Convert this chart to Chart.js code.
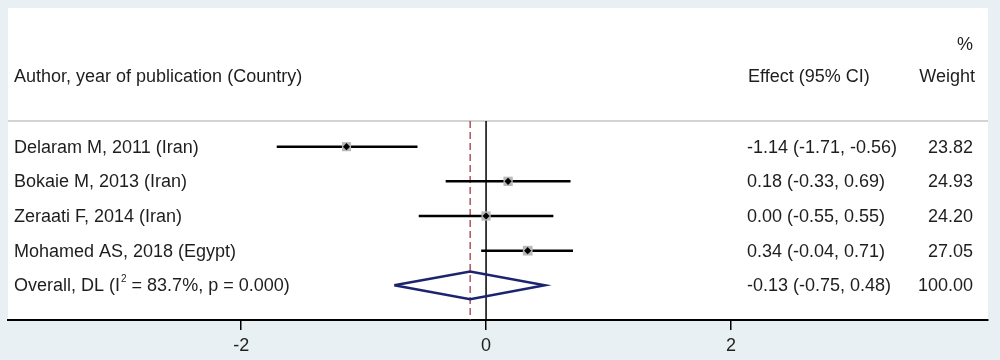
<!DOCTYPE html>
<html>
<head>
<meta charset="utf-8">
<script src="https://cdn.jsdelivr.net/npm/chart.js@4/dist/chart.umd.min.js"></script>
<style>
  html, body { margin: 0; padding: 0; background: #e8f0f3; }
  #wrap { width: 1000px; height: 360px; position: relative; }
</style>
</head>
<body>
<div id="wrap"><canvas id="forest"></canvas></div>
<script>
// study rows
const studies = ["Delaram M, 2011 (Iran)", "Bokaie M, 2013 (Iran)", "Zeraati F, 2014 (Iran)", "Mohamed AS, 2018 (Egypt)"];
const effects = [-1.14, 0.18, 0.00, 0.34];
const lower = [-1.71, -0.33, -0.55, -0.04];
const upper = [-0.56, 0.69, 0.55, 0.71];
const weights = [23.82, 24.93, 24.20, 27.05];

// pooled estimate
const overallLabel = ["Overall, DL (I", "2", " = 83.7%, p = 0.000)"];
const overallEffect = -0.13;
const overallLower = -0.75;
const overallUpper = 0.48;
const overallWeight = 100.00;

const xTicks = [-2, 0, 2];

const FONT = '"Liberation Sans", Arial, sans-serif';
const TEXT = '#1e1e1e';
const rowTop = -0.74; // header separator (in row units)
const overallRow = studies.length;

let datasets = [];

// black centre markers
datasets.push({
  data: effects.map((e, i) => ({x: e, y: i})),
  pointStyle: 'rectRot', pointRadius: 3.6, backgroundColor: '#000', borderWidth: 0,
  showLine: false, order: 0
});
// grey weight boxes
datasets.push({
  data: effects.map((e, i) => ({x: e, y: i})),
  pointStyle: 'rect', pointRadius: weights.map(w => Math.sqrt(w) * 1.32),
  backgroundColor: '#b8b8b8', borderWidth: 0, showLine: false, order: 1
});
// confidence intervals
studies.forEach((s, i) => {
  datasets.push({
    data: [{x: lower[i], y: i}, {x: upper[i], y: i}],
    showLine: true, borderColor: '#000', borderWidth: 2.5, pointRadius: 0, order: 2
  });
});
// overall diamond
datasets.push({
  data: [
    {x: overallLower, y: overallRow}, {x: overallEffect, y: overallRow - 0.4},
    {x: overallUpper, y: overallRow}, {x: overallEffect, y: overallRow + 0.4},
    {x: overallLower, y: overallRow}
  ],
  showLine: true, borderColor: '#1c2470', borderWidth: 2.5, pointRadius: 0, order: 2
});
// dashed line at pooled effect
datasets.push({
  data: [{x: overallEffect, y: rowTop}, {x: overallEffect, y: 5}],
  showLine: true, borderColor: '#9a2a3a', borderWidth: 1.2, borderDash: [7, 4], pointRadius: 0, order: 3
});
// line of no effect
datasets.push({
  data: [{x: 0, y: rowTop}, {x: 0, y: 5}],
  showLine: true, borderColor: '#000', borderWidth: 1.5, pointRadius: 0, order: 3
});

const panel = {
  id: 'panel',
  beforeDraw(chart) {
    const {ctx, chartArea: a, scales: {y}} = chart;
    ctx.save();
    ctx.fillStyle = '#fff';
    ctx.fillRect(a.left, a.top, a.right - a.left, a.bottom - a.top);
    ctx.strokeStyle = '#c4c4c4';
    ctx.lineWidth = 1.5;
    const ys = y.getPixelForValue(rowTop);
    ctx.beginPath(); ctx.moveTo(a.left, ys); ctx.lineTo(a.right, ys); ctx.stroke();
    ctx.restore();
  },
  afterDatasetsDraw(chart) {
    const {ctx, scales: {y}} = chart;
    const labX = 14, effX = 747, wRight = 974;
    ctx.save();
    ctx.fillStyle = TEXT;
    ctx.font = '18px ' + FONT;
    ctx.textBaseline = 'middle';
    // headers
    ctx.textAlign = 'left';
    ctx.fillText("Author, year of publication (Country)", labX, y.getPixelForValue(-2));
    ctx.fillText("Effect (95% CI)", effX + 1, y.getPixelForValue(-2));
    ctx.textAlign = 'right';
    ctx.fillText("Weight", wRight + 1, y.getPixelForValue(-2));
    ctx.fillText("%", wRight - 1, y.getPixelForValue(-2.92));
    // study rows
    studies.forEach((s, i) => {
      const py = y.getPixelForValue(i) + 1;
      ctx.textAlign = 'left';
      ctx.fillText(s, labX, py);
      ctx.fillText(effects[i].toFixed(2) + " (" + lower[i].toFixed(2) + ", " + upper[i].toFixed(2) + ")", effX, py);
      ctx.textAlign = 'right';
      ctx.fillText(weights[i].toFixed(2), wRight - 1, py);
    });
    // overall row
    const py = y.getPixelForValue(overallRow) + 1;
    ctx.textAlign = 'left';
    let x = labX;
    ctx.fillText(overallLabel[0], x, py);
    x += ctx.measureText(overallLabel[0]).width + 1;
    ctx.font = '10px ' + FONT;
    ctx.fillText(overallLabel[1], x, py - 7);
    x += ctx.measureText(overallLabel[1]).width;
    ctx.font = '18px ' + FONT;
    ctx.fillText(overallLabel[2], x, py);
    ctx.fillText(overallEffect.toFixed(2) + " (" + overallLower.toFixed(2) + ", " + overallUpper.toFixed(2) + ")", effX, py);
    ctx.textAlign = 'right';
    ctx.fillText(overallWeight.toFixed(2), wRight - 1, py);
    ctx.restore();
  }
};

new Chart(document.getElementById('forest'), {
  type: 'scatter',
  data: {datasets: datasets},
  options: {
    responsive: true,
    maintainAspectRatio: false,
    animation: false,
    layout: {padding: {left: 8, right: 12, top: 8, bottom: 0}},
    plugins: {legend: {display: false}, tooltip: {enabled: false}},
    scales: {
      x: {
        type: 'linear', min: -3.905, max: 4.1,
        afterBuildTicks: scale => { scale.ticks = xTicks.map(v => ({value: v})); },
        afterFit: scale => { scale.height = 40; },
        grid: {drawOnChartArea: false, drawTicks: true, tickLength: 10, color: '#000', lineWidth: 1.5},
        border: {display: true, color: '#000', width: 2},
        ticks: {color: '#222', font: {size: 18, family: FONT}, padding: 5, maxRotation: 0}
      },
      y: {
        type: 'linear', min: -4, max: 5, reverse: true, display: false
      }
    }
  },
  plugins: [panel]
});
</script>
</body>
</html>
